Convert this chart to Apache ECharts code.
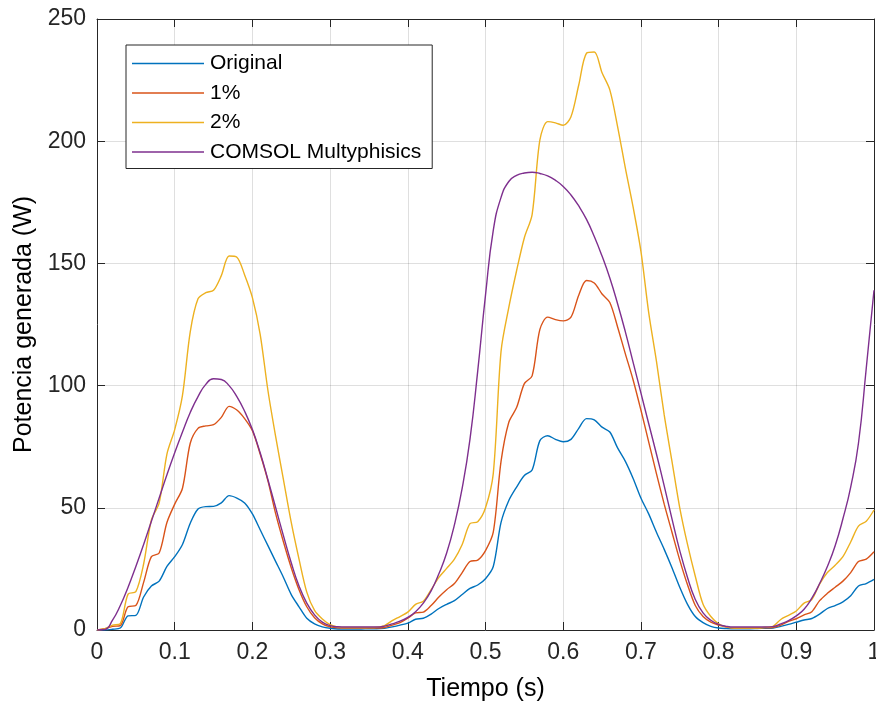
<!DOCTYPE html>
<html>
<head>
<meta charset="utf-8">
<script src="https://cdn.jsdelivr.net/npm/echarts@6/dist/echarts.min.js"></script>
<style>
  html, body { margin: 0; padding: 0; background: #fff; }
  #chart { width: 876px; height: 704px; }
</style>
</head>
<body>
<div id="chart"></div>
<script>
// Time samples (s)
const tiempo = [
  0.00, 0.01, 0.02, 0.03, 0.04, 0.05, 0.06, 0.07, 0.08, 0.09,
  0.10, 0.11, 0.12, 0.13, 0.14, 0.15, 0.16, 0.17, 0.18, 0.19,
  0.20, 0.21, 0.22, 0.23, 0.24, 0.25, 0.26, 0.27, 0.28, 0.29,
  0.30, 0.31, 0.32, 0.33, 0.34, 0.35, 0.36, 0.37, 0.38, 0.39,
  0.40, 0.41, 0.42, 0.43, 0.44, 0.45, 0.46, 0.47, 0.48, 0.49,
  0.50, 0.51, 0.52, 0.53, 0.54, 0.55, 0.56, 0.57, 0.58, 0.59,
  0.60, 0.61, 0.62, 0.63, 0.64, 0.65, 0.66, 0.67, 0.68, 0.69,
  0.70, 0.71, 0.72, 0.73, 0.74, 0.75, 0.76, 0.77, 0.78, 0.79,
  0.80, 0.81, 0.82, 0.83, 0.84, 0.85, 0.86, 0.87, 0.88, 0.89,
  0.90, 0.91, 0.92, 0.93, 0.94, 0.95, 0.96, 0.97, 0.98, 0.99,
  1.00
];

// Generated power (W)
const original = [
  0, 0, 0.3, 0.8, 5.8, 6, 13.5, 18, 20, 26,
  30, 35, 43.7, 49.5, 50.5, 50.6, 52, 55, 54, 52,
  47.5, 41, 34.5, 28, 21.5, 14.5, 9.5, 4.8, 2.5, 1.3,
  0.7, 0.4, 0.4, 0.4, 0.4, 0.5, 0.5, 0.7, 1.3, 2,
  2.8, 4.4, 4.8, 6.5, 8.8, 10.5, 12, 14.5, 17, 18.4,
  21, 26, 44, 53, 58.5, 63.2, 65.5, 77.5, 79.5, 78,
  77, 78, 82.5, 86.5, 86, 83, 81, 74.5, 69, 62,
  54, 47.5, 40, 33, 25.5, 17.5, 10.5, 5.5, 3, 1.5,
  0.8, 0.6, 0.5, 0.5, 0.5, 0.6, 0.7, 0.8, 1.5, 2.3,
  3.2, 4.1, 4.7, 6.5, 8.8, 10, 11.5, 14, 18, 19,
  20.7
];

const pct1 = [
  0, 0.5, 1.5, 1.8, 9.5, 10, 19.5, 30, 31.5, 44,
  51.5, 58, 76.4, 82.5, 83.5, 84, 87, 91.5, 90, 86.5,
  81.5, 72, 61, 47.5, 36, 25.5, 16.5, 9.5, 5, 2.5,
  1.3, 0.9, 0.8, 0.8, 0.8, 0.8, 0.8, 1, 2, 3,
  4.8, 7, 7.3, 10, 13.5, 16.5, 19, 23.5, 28, 28.6,
  32.5, 40, 69, 85, 91, 100.8, 104, 123, 128, 127,
  126.5, 128, 137, 143, 142, 137.5, 134, 124, 113, 102.3,
  90, 77, 64, 51.5, 40, 28.6, 18.5, 10, 5.5, 3.2,
  2, 1.2, 0.8, 0.8, 0.8, 0.8, 0.9, 1, 2, 3.5,
  4.6, 6.2, 7.5, 12, 15, 17.5, 20, 23.5, 28, 29,
  32
];

const pct2 = [
  0, 0.5, 2, 2.6, 14.7, 15.7, 27, 45, 52, 72,
  82, 96, 122, 135.5, 138, 139, 145, 153, 152.5, 145.3,
  136, 121, 98, 79, 61.4, 44, 29, 15.5, 8, 4.5,
  2.2, 1.2, 1, 1, 1, 1, 1.1, 1.8, 3.8, 5.5,
  7.3, 10.5, 11.8, 16.5, 21.5, 25.2, 29, 35, 43.5, 44.3,
  50, 64, 114, 132, 147, 160.5, 170, 200.5, 208, 207.5,
  206.5, 210, 223, 236, 236.5, 228, 221, 206, 189, 173,
  155, 130, 110, 88, 69, 50, 35, 22, 10.5, 5.5,
  2.5, 1.3, 0.8, 0.8, 0.8, 0.8, 1.1, 1.5, 4.3, 6,
  7.8, 11, 12.5, 18.8, 23.5, 26.5, 30, 36, 42.5, 44.5,
  49.1
];

const comsol = [
  0, 0.2, 4, 10, 17.5, 26, 35, 44.5, 54, 63.5,
  72.5, 81, 89, 95.5, 100.5, 102.8, 102.5, 100, 95.5, 89.5,
  82, 72.5, 61.5, 50, 38.5, 27.5, 18, 11, 6.2, 3.2,
  1.8, 1.3, 1.2, 1.2, 1.2, 1.2, 1.2, 1.6, 2.5, 3.6,
  5.2, 7.5, 11, 16, 23, 31.5, 43, 58, 78, 106,
  137, 163.5, 177, 183.5, 186, 187, 187.3, 186.8, 185.8, 184,
  181.5, 178, 173.5, 168, 161, 153, 144, 133.5, 122, 109.5,
  97, 84.5, 72, 59, 45.5, 32.5, 21.5, 12.5, 7, 4,
  2.3, 1.5, 1.2, 1.2, 1.2, 1.2, 1.2, 1.4, 2.5, 3.8,
  5.8, 8.5, 13, 19, 26, 34.5, 45.5, 58.5, 76.4, 107,
  139
];

const seriesNames = ['Original', '1%', '2%', 'COMSOL Multyphisics'];
const seriesColors = ['#0072BD', '#D95319', '#EDB120', '#7E2F8E'];
const seriesValues = [original, pct1, pct2, comsol];

const xTicks = { min: 0, max: 1, interval: 0.1 };
const yTicks = { min: 0, max: 250, interval: 50 };

const FONT = '"Liberation Sans", Arial, Helvetica, sans-serif';
const AXIS_COLOR = '#262626';

const chart = echarts.init(document.getElementById('chart'), null, { renderer: 'canvas' });

function pairs(values) {
  return tiempo.map((t, i) => [t, values[i]]);
}

const frameAxis = {
  axisLine: { show: true, onZero: false, lineStyle: { color: AXIS_COLOR, width: 1 } },
  axisTick: { show: true, inside: true, length: 8, lineStyle: { color: AXIS_COLOR, width: 1 } },
  splitLine: { show: false },
  axisLabel: { show: false }
};

chart.setOption({
  animation: false,
  backgroundColor: '#ffffff',
  grid: {
    left: 97, right: 2, top: 19, bottom: 74,
    containLabel: false,
    outerBoundsMode: 'none'
  },
  legend: {
    orient: 'vertical',
    left: 126,
    top: 45,
    data: seriesNames,
    icon: 'rect',
    itemWidth: 72,
    itemHeight: 1.5,
    itemGap: 8.5,
    padding: [8, 11, 6, 6],
    borderColor: AXIS_COLOR,
    borderWidth: 1,
    backgroundColor: '#ffffff',
    textStyle: { fontFamily: FONT, fontSize: 21, color: '#000000', padding: [0, 0, 0, 1] }
  },
  xAxis: [
    {
      type: 'value',
      position: 'bottom',
      min: xTicks.min, max: xTicks.max, interval: xTicks.interval,
      name: 'Tiempo (s)',
      nameLocation: 'middle',
      nameGap: 47,
      nameTextStyle: { fontFamily: FONT, fontSize: 25, color: '#000000' },
      axisLine: { show: true, onZero: false, lineStyle: { color: AXIS_COLOR, width: 1 } },
      axisTick: { show: true, inside: true, length: 8, lineStyle: { color: AXIS_COLOR, width: 1 } },
      axisLabel: {
        margin: 11,
        fontFamily: FONT, fontSize: 23, color: AXIS_COLOR,
        formatter: v => String(+v.toFixed(1))
      },
      splitLine: { show: true, lineStyle: { color: 'rgba(38,38,38,0.15)', width: 1 } }
    },
    Object.assign({
      type: 'value', position: 'top',
      min: xTicks.min, max: xTicks.max, interval: xTicks.interval
    }, frameAxis)
  ],
  yAxis: [
    {
      type: 'value',
      position: 'left',
      min: yTicks.min, max: yTicks.max, interval: yTicks.interval,
      name: 'Potencia generada (W)',
      nameLocation: 'middle',
      nameGap: 58,
      nameTextStyle: { fontFamily: FONT, fontSize: 25, color: '#000000' },
      axisLine: { show: true, onZero: false, lineStyle: { color: AXIS_COLOR, width: 1 } },
      axisTick: { show: true, inside: true, length: 8, lineStyle: { color: AXIS_COLOR, width: 1 } },
      axisLabel: { margin: 11, fontFamily: FONT, fontSize: 23, color: AXIS_COLOR },
      splitLine: { show: true, lineStyle: { color: 'rgba(38,38,38,0.15)', width: 1 } }
    },
    Object.assign({
      type: 'value', position: 'right',
      min: yTicks.min, max: yTicks.max, interval: yTicks.interval
    }, frameAxis)
  ],
  series: seriesNames.map((name, i) => ({
    name: name,
    type: 'line',
    xAxisIndex: 0,
    yAxisIndex: 0,
    data: pairs(seriesValues[i]),
    showSymbol: false,
    symbol: 'none',
    smooth: i === 3 ? 0.5 : 0.3,
    clip: true,
    color: seriesColors[i],
    lineStyle: { color: seriesColors[i], width: 1.4 },
    z: 2 + i
  }))
});
</script>
</body>
</html>
